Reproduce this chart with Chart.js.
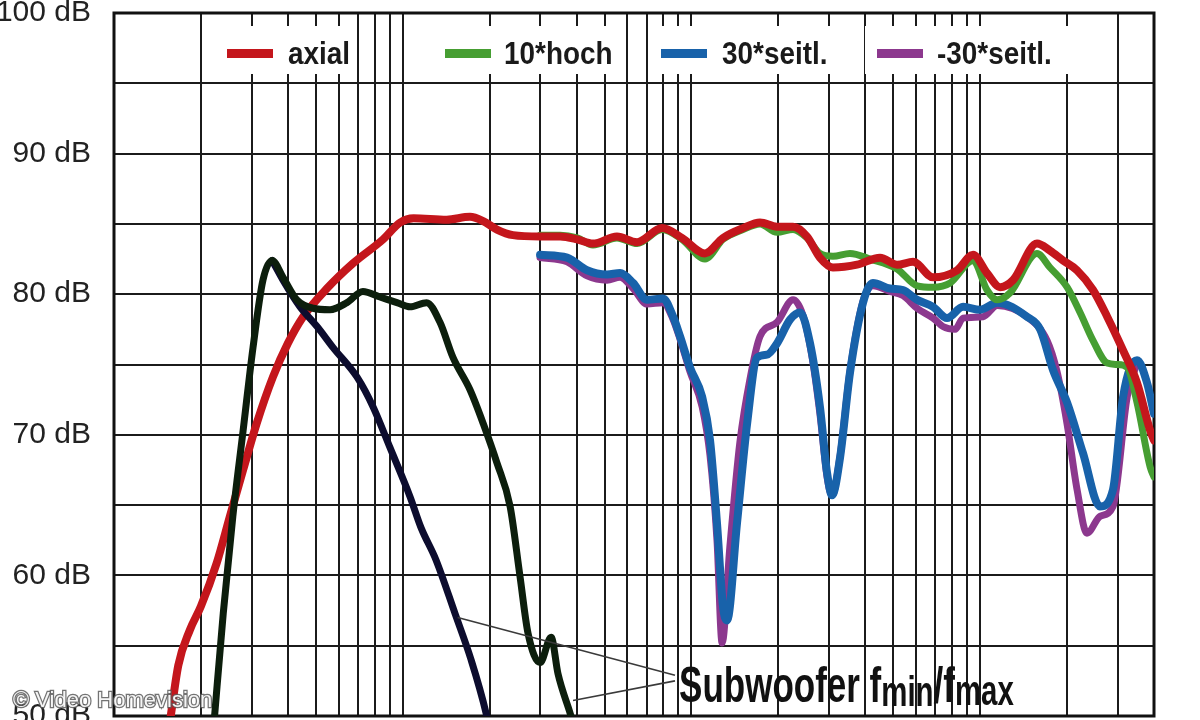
<!DOCTYPE html>
<html>
<head>
<meta charset="utf-8">
<script src="https://cdn.jsdelivr.net/npm/chart.js@4.4.1/dist/chart.umd.min.js"></script>
<style>
  html, body { margin: 0; padding: 0; background: #fff; }
  canvas { display: block; }
</style>
</head>
<body>
<canvas id="graph_fr" width="1200" height="720"></canvas>
<script>
/*------------------------------*/
/*            DATA              */
/*------------------------------*/
// vertical grid (Hz), 10 Hz .. 40 kHz
var gridHz = [10, 20, 30, 40, 50, 60, 70, 80, 90,
  100, 200, 300, 400, 500, 600, 700, 800, 900,
  1000, 2000, 3000, 4000, 5000, 6000, 7000, 8000, 9000,
  10000, 20000, 30000, 40000]

var axialHz = [15.6, 16.7, 18.3, 20, 22.7, 25.2, 28, 31.2, 35.5, 40, 45.2, 54.6, 67.3, 85.5, 98, 109, 142, 171, 190, 212,
  241, 299, 351, 402, 456, 552, 648, 791, 927, 1114, 1286, 1509, 1728, 1978, 2248, 2514, 2786, 3091, 3747, 4500,
  5152, 5857, 6870, 8318, 9446, 10560, 11720, 13000, 15730, 17450, 19360, 21660, 24600, 27540, 31260, 34930, 38800, 40000]
var axialDb = [49.5, 53.6, 56.1, 57.8, 60.9, 64.2, 67.5, 70.8, 74.1, 76.5, 78.4, 80.4, 82.2, 83.9, 85.1, 85.4, 85.3, 85.5, 85.2, 84.6,
  84.2, 84.1, 84.1, 83.9, 83.6, 84.1, 83.7, 84.7, 84.0, 82.9, 84.0, 84.7, 85.1, 84.8, 84.8, 84.1, 82.6, 81.9, 82.1, 82.6,
  82.1, 82.3, 81.2, 81.7, 82.8, 81.5, 80.5, 81.0, 83.6, 83.1, 82.4, 81.7, 80.3, 78.4, 76.0, 73.7, 70.3, 69.6]

var hochHz = [299, 351, 402, 456, 552, 648, 791, 927, 1114, 1286, 1509, 1728, 1978, 2248, 2514, 2786, 3091, 3540, 4160, 5152,
  6044, 6870, 7870, 9446, 10560, 11460, 12700, 15730, 17450, 20000, 22180, 24600, 27540, 29800, 32300, 34930, 38800, 40000]
var hochDb = [84.2, 84.2, 84.0, 83.5, 84.0, 83.6, 84.6, 83.9, 82.5, 83.9, 84.6, 85.0, 84.4, 84.6, 84.0, 82.9, 82.7, 82.9, 82.5, 81.8,
  80.6, 80.5, 80.8, 82.4, 80.3, 79.6, 80.1, 82.9, 81.9, 80.5, 78.7, 76.7, 75.1, 75.0, 74.8, 72.3, 67.7, 67.0]

var seitlHz = [299, 371, 435, 510, 566, 628, 702, 797, 864, 913, 988, 1089, 1160, 1226, 1286, 1328, 1438, 1559, 1688, 1828,
  1978, 2196, 2377, 2575, 2786, 2949, 3069, 3272, 3540, 3929, 4252, 4873, 5404, 6044, 6870, 7678, 8725, 10000, 11460, 14530,
  16130, 17880, 19990, 22700, 26000, 28840, 31260, 34930, 37840, 40000]
var seitlDb = [82.8, 82.6, 81.7, 81.4, 81.5, 80.8, 79.6, 79.7, 78.4, 77.0, 74.8, 72.7, 69.6, 63.7, 57.8, 56.8, 63.7, 70.8, 75.5, 75.7,
  76.5, 78.2, 78.7, 76.5, 72.0, 67.3, 65.7, 68.4, 74.4, 79.4, 80.8, 80.4, 80.3, 79.6, 79.1, 78.3, 79.1, 78.9, 79.4, 78.4,
  77.5, 74.6, 72.3, 68.7, 64.9, 66.1, 72.7, 75.3, 73.7, 71.5]

var minusHz = [299, 371, 435, 510, 566, 628, 702, 797, 864, 913, 988, 1089, 1160, 1226, 1277, 1358, 1472, 1596, 1728, 1978,
  2248, 2433, 2618, 2786, 2949, 3069, 3272, 3540, 3929, 4252, 4873, 5404, 6044, 6870, 7430, 8185, 8725, 10240, 11460, 14530,
  17060, 18460, 19990, 21660, 23440, 26000, 28840, 32300, 34930]
var minusDb = [82.6, 82.3, 81.3, 81.0, 81.2, 80.4, 79.3, 79.4, 78.2, 76.8, 74.5, 72.0, 68.5, 62.5, 55.2, 62.0, 69.5, 74.0, 77.0, 78.0,
  79.6, 78.5, 75.5, 71.5, 67.0, 65.7, 68.5, 74.5, 79.5, 80.6, 80.2, 79.9, 79.0, 78.3, 77.7, 77.5, 78.3, 78.4, 79.2, 78.4,
  76.7, 74.5, 70.8, 66.1, 63.0, 64.2, 64.9, 72.7, 75.1]

// subwoofer f max / f min
var subMaxHz = [22.2, 23.9, 25.8, 28, 30.3, 32.8, 35.3, 38.5, 43, 48.9, 56, 64.1, 72.8, 83.4, 95.5, 106, 121, 134.6, 149.3, 171,
  190, 212, 235.5, 254.9, 271.5, 299, 326.6, 345, 380, 389]
var subMaxDb = [49.5, 57.3, 64.2, 70.3, 76.2, 81.0, 82.4, 81.2, 79.6, 79.0, 78.9, 79.4, 80.2, 79.8, 79.4, 79.1, 79.4, 78.0, 75.5, 73.2,
  70.8, 68.0, 64.9, 59.9, 55.9, 53.8, 55.6, 53.0, 50.2, 49.5]

var subMinHz = [35.3, 38.5, 44.1, 50.5, 57.4, 69.5, 78.9, 90.3, 106, 115.7, 130.4, 151.7, 172.5, 194.4, 197.5]
var subMinDb = [82.4, 81.0, 79.1, 77.7, 76.2, 74.1, 72.0, 69.1, 65.6, 63.4, 61.1, 57.3, 54.0, 50.2, 49.5]

// callout: from points on the two subwoofer curves to the label
var calloutFrom = [[155, 57.0], [389, 51.1]]
var calloutTo = [[877, 52.9], [877, 52.5]]
var calloutLabelAt = [906, 51.0]
/*------------------------------*/

function toPoints(hz, db) {
  return hz.map(function (f, i) { return { x: f, y: db[i] } })
}

var FONT = '"Liberation Sans", Arial, Helvetica, sans-serif'

function scaledText(ctx, txt, x, y, sx) {
  ctx.save()
  ctx.translate(x, y)
  ctx.scale(sx, 1)
  ctx.fillText(txt, 0, 0)
  var w = ctx.measureText(txt).width * sx
  ctx.restore()
  return w
}

var whiteBg = {
  id: 'whiteBg',
  beforeDraw: function (chart) {
    var ctx = chart.ctx
    ctx.save()
    ctx.fillStyle = '#fff'
    ctx.fillRect(0, 0, chart.width, chart.height)
    ctx.restore()
  }
}

// legend drawn in the top row of the grid, on white boxes
var legendRow = {
  id: 'legendRow',
  beforeDatasetsDraw: function (chart) {
    var ctx = chart.ctx, a = chart.chartArea
    var slots = [
      { box: [214, 354], sw: 227, tx: 288 },
      { box: [433, 624], sw: 445, tx: 504 },
      { box: [649, 845], sw: 661, tx: 722 },
      { box: [865, 1071], sw: 877, tx: 937 }
    ]
    ctx.save()
    ctx.fillStyle = '#fff'
    slots.forEach(function (s) { ctx.fillRect(s.box[0], 26, s.box[1] - s.box[0], 48) })
    // frame
    ctx.strokeStyle = '#111'
    ctx.lineWidth = 3
    ctx.strokeRect(a.left, a.top, a.right - a.left, a.bottom - a.top)
    ctx.font = 'bold 31px ' + FONT
    ctx.textBaseline = 'alphabetic'
    slots.forEach(function (s, i) {
      var ds = chart.data.datasets[i]
      ctx.fillStyle = ds.borderColor
      ctx.fillRect(s.sw, 49, 46, 9)
      ctx.fillStyle = '#1a1a1a'
      scaledText(ctx, ds.label, s.tx, 64, 0.9)
    })
    ctx.restore()
  }
}

var callout = {
  id: 'callout',
  afterDatasetsDraw: function (chart) {
    var ctx = chart.ctx, sx = chart.scales.x, sy = chart.scales.y
    ctx.save()
    ctx.strokeStyle = '#3a3a3a'
    ctx.lineWidth = 1.6
    calloutFrom.forEach(function (p, i) {
      ctx.beginPath()
      ctx.moveTo(sx.getPixelForValue(p[0]), sy.getPixelForValue(p[1]))
      ctx.lineTo(sx.getPixelForValue(calloutTo[i][0]), sy.getPixelForValue(calloutTo[i][1]))
      ctx.stroke()
    })
    var x = sx.getPixelForValue(calloutLabelAt[0])
    var y = sy.getPixelForValue(calloutLabelAt[1])
    ctx.fillStyle = '#111'
    var big = 'bold 50px ' + FONT, small = 'bold 42px ' + FONT
    ctx.font = big
    x += scaledText(ctx, 'Subwoofer f', x, y, 0.7)
    ctx.font = small
    x += scaledText(ctx, 'min', x, y + 4, 0.7)
    ctx.font = big
    x += scaledText(ctx, '/f', x, y, 0.7)
    ctx.font = small
    scaledText(ctx, 'max', x, y + 3, 0.7)
    ctx.restore()
  }
}

var watermark = {
  id: 'watermark',
  afterDraw: function (chart) {
    var ctx = chart.ctx
    ctx.save()
    ctx.font = '22px ' + FONT
    ctx.lineWidth = 2.5
    ctx.strokeStyle = 'rgba(90,90,90,0.85)'
    ctx.strokeText('\u00A9 Video Homevision', 13, 707)
    ctx.fillStyle = '#f6f6f6'
    ctx.fillText('\u00A9 Video Homevision', 13, 707)
    ctx.restore()
  }
}

function curve(label, hz, db, color, width, order) {
  return {
    label: label,
    data: toPoints(hz, db),
    borderColor: color,
    backgroundColor: color,
    borderWidth: width,
    pointRadius: 0,
    fill: false,
    cubicInterpolationMode: 'monotone',
    borderCapStyle: 'round',
    borderJoinStyle: 'round',
    order: order
  }
}

var ctx_fr = document.getElementById('graph_fr').getContext('2d')

var data_fr = {
  datasets: [
    curve('axial', axialHz, axialDb, 'rgb(196, 22, 28)', 8, 0),
    curve('10*hoch', hochHz, hochDb, 'rgb(70, 158, 50)', 7, 0),
    curve('30*seitl.', seitlHz, seitlDb, 'rgb(24, 98, 170)', 8, 0),
    curve('-30*seitl.', minusHz, minusDb, 'rgb(140, 56, 142)', 7, 0),
    curve('Subwoofer fmax', subMaxHz, subMaxDb, 'rgb(12, 30, 12)', 7, -1),
    curve('Subwoofer fmin', subMinHz, subMinDb, 'rgb(12, 12, 46)', 7, -1)
  ]
}

var config_fr = {
  type: 'line',
  data: data_fr,
  options: {
    responsive: false,
    devicePixelRatio: 1,
    animation: false,
    layout: { padding: { top: 13, right: 46, left: 0, bottom: 0 } },
    plugins: {
      legend: { display: false },
      tooltip: { enabled: false },
      title: { display: false }
    },
    scales: {
      x: {
        type: 'logarithmic',
        min: 10,
        max: 40000,
        afterBuildTicks: function (s) { s.ticks = gridHz.map(function (v) { return { value: v } }) },
        afterFit: function (s) { s.height = 4; s.paddingLeft = 0; s.paddingRight = 0 },
        ticks: { display: false },
        grid: { color: '#1b1b1b', lineWidth: 2, drawTicks: false },
        border: { display: false }
      },
      y: {
        min: 50,
        max: 100,
        afterFit: function (s) { s.width = 114; s.paddingTop = 0; s.paddingBottom = 0 },
        ticks: {
          stepSize: 5,
          padding: 23,
          color: '#222',
          font: { family: FONT, size: 30 },
          callback: function (v) { return v % 10 === 0 ? v + ' dB' : '' }
        },
        grid: { color: '#1b1b1b', lineWidth: 2, drawTicks: false },
        border: { display: false }
      }
    }
  },
  plugins: [whiteBg, legendRow, callout, watermark]
}

var graph_fr = new Chart(ctx_fr, config_fr)
</script>
</body>
</html>
